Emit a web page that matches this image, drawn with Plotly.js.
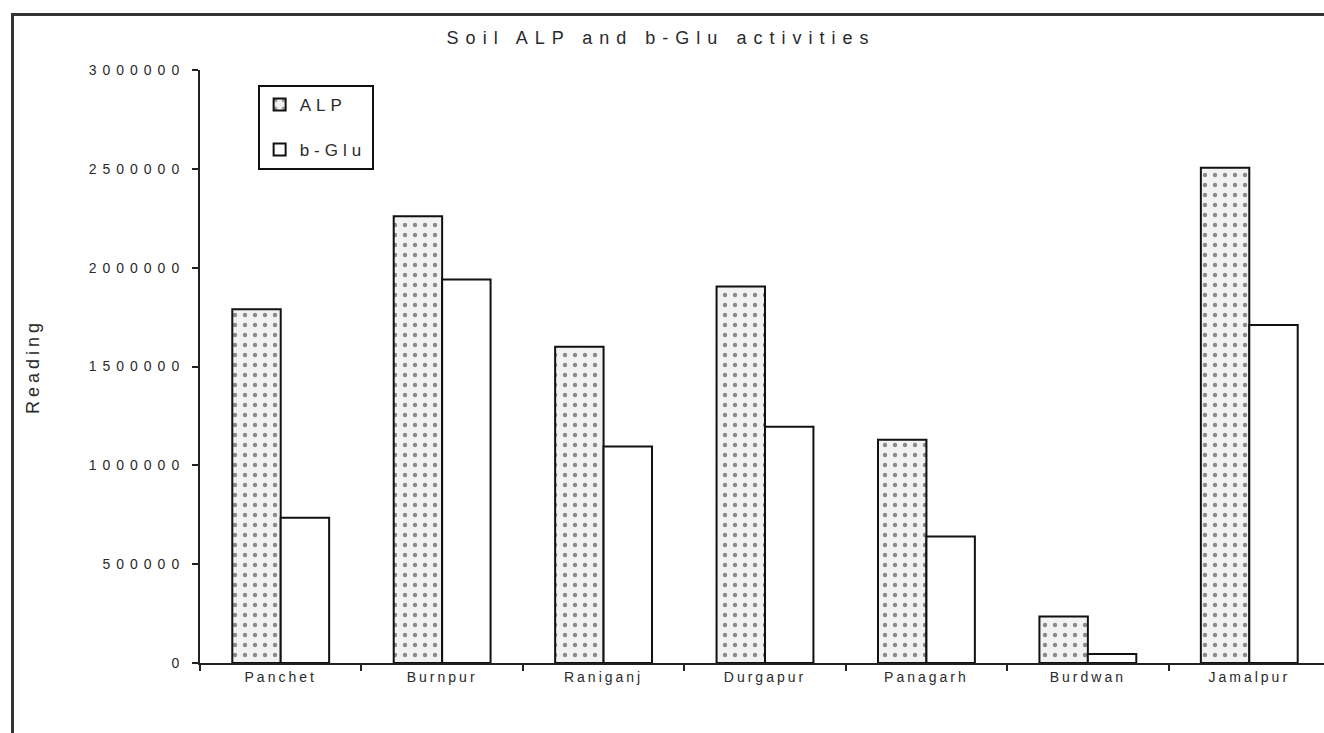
<!DOCTYPE html>
<html>
<head>
<meta charset="utf-8">
<script src="https://cdn.plot.ly/plotly-3.0.1.min.js"></script>
<style>
  html, body { margin: 0; padding: 0; overflow: hidden; background: #fff; }
  #chart { width: 1330px; height: 733px; }
  #frame { position: absolute; left: 11px; top: 13px; width: 2000px; height: 2000px;
           border-left: 3px solid #333; border-top: 3px solid #333; pointer-events: none; }
  .ytick text { letter-spacing: 6px; }
  .xtick text { letter-spacing: 3px; }
  .gtitle { letter-spacing: 7px; }
  .ytitle { letter-spacing: 4px; }
  .legendtext { letter-spacing: 5px; }
</style>
</head>
<body>
<div id="chart"></div>
<div id="frame"></div>
<script>
const categories = ["Panchet", "Burnpur", "Raniganj", "Durgapur", "Panagarh", "Burdwan", "Jamalpur"];
const alpValues  = [1790000, 2260000, 1600000, 1905000, 1130000, 235000, 2505000];
const bgluValues = [735000, 1940000, 1095000, 1195000, 640000, 45000, 1710000];
const yTickValues = [0, 500000, 1000000, 1500000, 2000000, 2500000, 3000000];

const font = "Liberation Sans, Arial, sans-serif";
const txt = "#2a2a2a";

const traces = [
  {
    type: "bar", name: "ALP", x: categories, y: alpValues, legendgroup: "a",
    marker: { color: "#f2f2f2", line: { color: "#111", width: 2 },
              pattern: { shape: ".", fgcolor: "#8a8a8a", bgcolor: "#f2f2f2", size: 10, solidity: 0.15 } }
  },
  {
    type: "bar", name: "b-Glu", x: categories, y: bgluValues, legendgroup: "b",
    marker: { color: "#ffffff", line: { color: "#111", width: 2 } }
  }
];

const layout = {
  width: 1330, height: 733,
  margin: { l: 200, r: 0, t: 70, b: 70 },
  paper_bgcolor: "#fff", plot_bgcolor: "#fff",
  barmode: "group", bargap: 0.4, bargroupgap: 0,
  font: { family: font, color: txt, size: 14 },
  title: { text: "Soil ALP and b-Glu activities", font: { family: font, size: 18, color: txt },
           x: 0.497, xref: "container", xanchor: "center", y: 0.948, yanchor: "middle" },
  showlegend: true,
  legend: { x: 0.051, y: 0.975, xanchor: "left", yanchor: "top",
            bordercolor: "#111", borderwidth: 2, bgcolor: "#fff",
            traceorder: "grouped", tracegroupgap: 20,
            font: { family: font, size: 17, color: txt } },
  xaxis: { type: "category", showline: true, linecolor: "#222", linewidth: 2,
           ticks: "outside", tickson: "boundaries", ticklen: 6, tickwidth: 2, tickcolor: "#222",
           showgrid: false, zeroline: false, tickfont: { family: font, size: 14, color: txt } },
  yaxis: { range: [0, 3000000], tickvals: yTickValues, ticktext: yTickValues.map(String),
           showline: true, linecolor: "#222", linewidth: 2,
           ticks: "outside", ticklen: 6, tickwidth: 2, tickcolor: "#222", ticklabelstandoff: 4,
           showgrid: false, zeroline: false, tickfont: { family: font, size: 14, color: txt },
           title: { text: "Reading", font: { family: font, size: 18, color: txt }, standoff: 44 } }
};

Plotly.newPlot("chart", traces, layout, { displayModeBar: false, staticPlot: true });
</script>
</body>
</html>
